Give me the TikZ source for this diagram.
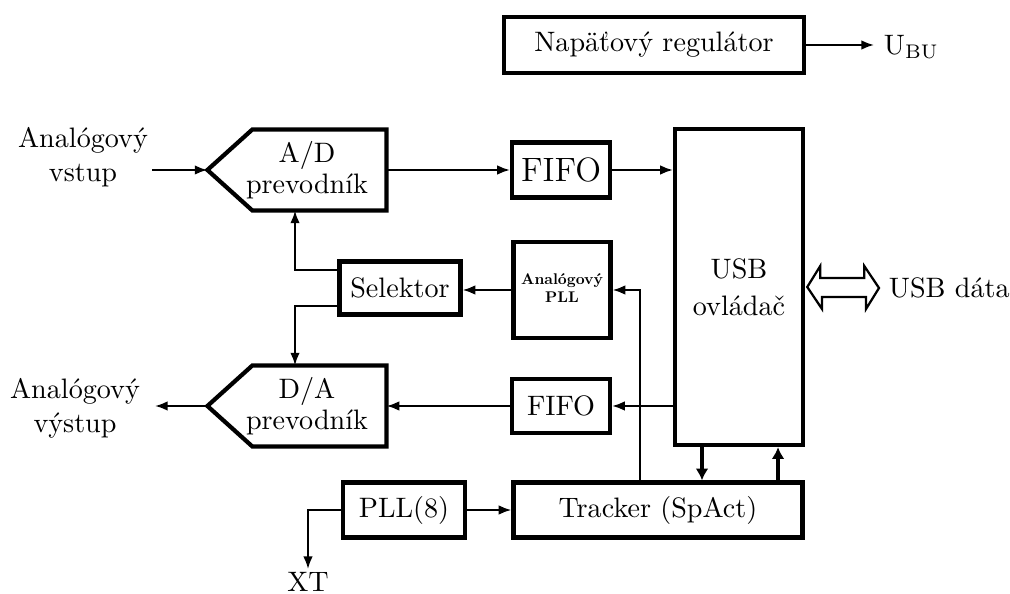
\documentclass[tikz,border=0pt]{standalone}
\usetikzlibrary{arrows.meta}
\begin{document}
\begin{tikzpicture}[x=0.0125cm,y=-0.0125cm,
  blok/.style={draw,line width=1.5pt,align=center,inner sep=0pt},
  pent/.style={align=center,inner sep=0pt,minimum width=1.975cm,minimum height=1cm},
  sipka/.style={line width=0.7pt,-{Latex[length=4.5pt,width=3.4pt]}},
  hsipka/.style={line width=1.5pt,-{Latex[length=4.2pt,width=4.6pt]}}]
  \useasboundingbox (0,0) rectangle (1010,594);

  \node[blok,minimum width=3.75cm,minimum height=0.7cm] (reg) at (654,45) {Nap\"a\v{t}ov\'y regul\'ator};
  \node[anchor=west] (ubu) at (874,47) {U\textsubscript{BU}};

  \node[pent] (ad) at (307,170) {A/D\\[-1pt]prevodn\'ik};
  \node[pent] (da) at (307,406) {D/A\\[-1pt]prevodn\'ik};
  \foreach \n in {ad,da}
{
    \draw[line width=1.5pt,line join=miter]([xshift=0.3125cm]\n.north west)--(\n.north east)--(\n.south east)
      --([xshift=0.3125cm]\n.south west)--([xshift=-0.25cm]\n.west)--cycle;
}
  \coordinate (adtip) at ([xshift=-0.25cm]ad.west);
  \coordinate (datip) at ([xshift=-0.25cm]da.west);

  \node[blok,minimum width=1.225cm,minimum height=0.6875cm,font=\large] (fifo1) at (561,170) {FIFO};
  \node[blok,minimum width=1.225cm,minimum height=0.675cm] (fifo2) at (561,406) {FIFO};
  \node[blok,minimum width=1.6cm,minimum height=3.95cm] (usb) at (739,287) {USB\\[1pt]ovl\'ada\v{c}};
  \node[blok,minimum width=1.2125cm,minimum height=1.2cm] (pll) at (562,290)
    {\scalebox{0.55}{\bfseries\begin{tabular}{@{}c@{}}Anal\'ogov\'y\\PLL\end{tabular}}};
  \node[blok,minimum width=1.5125cm,minimum height=0.6625cm] (sel) at (400,288) {Selektor};
  \node[blok,minimum width=3.6125cm,minimum height=0.6875cm] (trk) at (658,510) {Tracker (SpAct)};
  \node[blok,minimum width=1.525cm,minimum height=0.6875cm] (pll8) at (404,510) {PLL(8)};

  \node[align=center] (ain) at (83,157) {Anal\'ogov\'y\\vstup};
  \node[align=center] (aout) at (75,408) {Anal\'ogov\'y\\v\'ystup};
  \node[inner sep=1pt] (xt) at (308,582) {XT};
  \node[anchor=west] (usbd) at (879,288) {USB d\'ata};

  \coordinate (ainpt) at (152,169);
  \coordinate (aoutpt) at (155,405);
  \coordinate (selx) at (295,288);
  \coordinate (trkx) at (640,0);

  \draw[sipka](reg.east)--(ubu.west|-reg.east);
  \draw[sipka](ainpt|-adtip)--(adtip);
  \draw[sipka](ad.east)--(fifo1.west);
  \draw[sipka](fifo1.east)--(fifo1.east-|usb.west);
  \draw[sipka](pll.west)--(pll.west-|sel.east);
  \draw[sipka]([yshift=0.225cm]sel.west)-|(ad.south-|selx);
  \draw[sipka]([yshift=-0.225cm]sel.west)-|(da.north-|selx);
  \draw[sipka](usb.west|-fifo2.east)--(fifo2.east);
  \draw[sipka](fifo2.west)--(fifo2.west-|da.east);
  \draw[sipka](datip)--(datip-|aoutpt);
  \draw[sipka](trk.north-|trkx)|-(pll.east);
  \draw[hsipka]([xshift=-0.4625cm]usb.south)--([xshift=-0.4625cm]usb.south|-trk.north);
  \draw[hsipka]([xshift=0.4875cm]usb.south|-trk.north)--([xshift=0.4875cm]usb.south);
  \draw[sipka](pll8.east)--(trk.west);
  \draw[sipka](pll8.west)-|(xt.north);
  \draw[line width=0.8pt,line join=miter]([xshift=0.75pt]usb.east)--++(13,-21)--++(0,12)--++(44,0)--++(0,-12)
    --(usbd.west)--++(-13,21)--++(0,-12)--++(-44,0)--++(0,12)--cycle;
\end{tikzpicture}
\end{document}
